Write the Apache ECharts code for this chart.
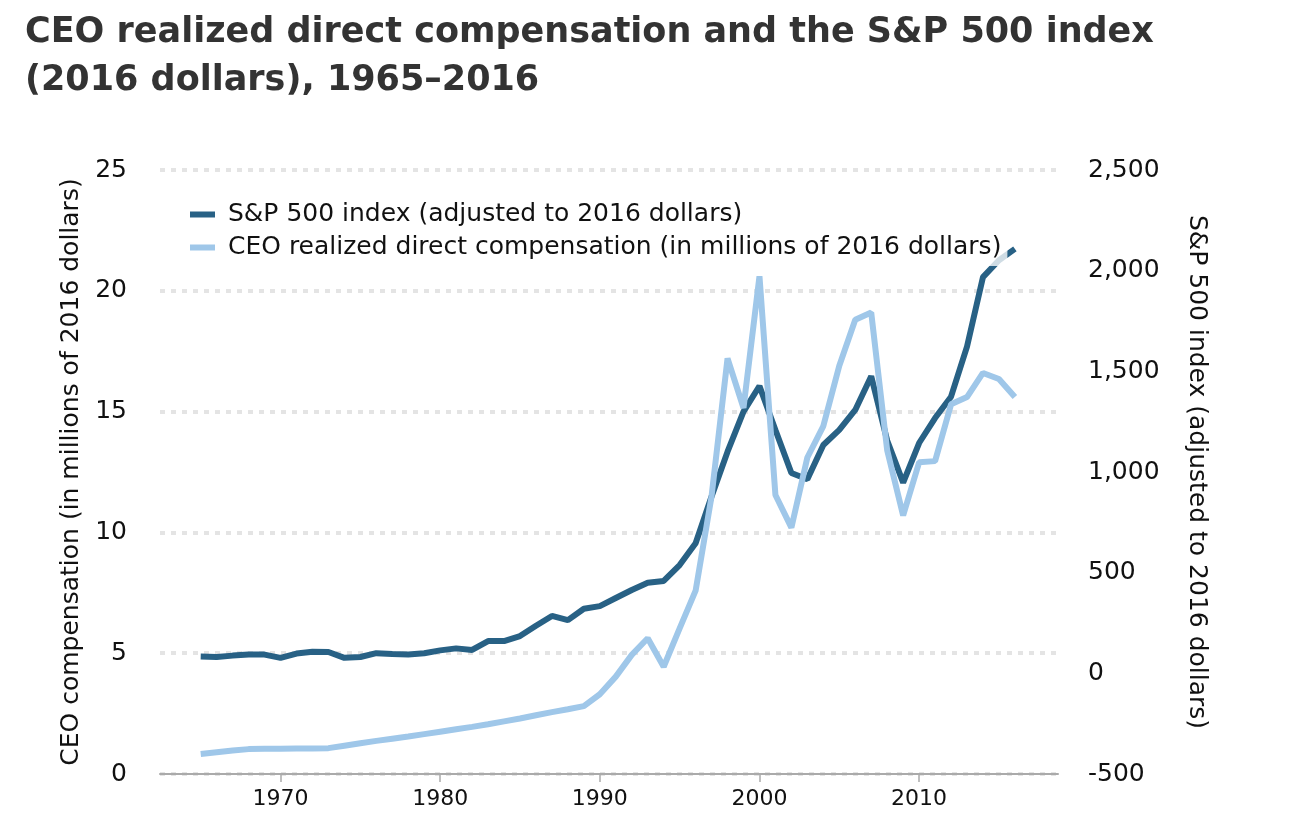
<!DOCTYPE html>
<html>
<head>
<meta charset="utf-8">
<script src="https://cdn.jsdelivr.net/npm/echarts@6/dist/echarts.min.js"></script>
<style>
html,body{margin:0;padding:0;background:#fff;}
#chart{width:1308px;height:832px;}
</style>
</head>
<body>
<div id="chart"></div>
<script>
const years = [1965,1966,1967,1968,1969,1970,1971,1972,1973,1974,1975,1976,1977,1978,1979,1980,1981,1982,1983,1984,1985,1986,1987,1988,1989,1990,1991,1992,1993,1994,1995,1996,1997,1998,1999,2000,2001,2002,2003,2004,2005,2006,2007,2008,2009,2010,2011,2012,2013,2014,2015,2016];
const sp500 = [83,81,88,94,93,77,98,107,106,77,81,100,96,94,100,114,124,116,160,160,185,236,285,264,321,334,374,414,450,459,538,646,878,1101,1300,1427,1209,995,964,1134,1209,1308,1476,1156,947,1144,1268,1374,1623,1968,2052,2108];
const ceoComp = [0.83,0.90,0.97,1.03,1.04,1.05,1.06,1.06,1.07,1.17,1.27,1.37,1.46,1.55,1.65,1.75,1.85,1.95,2.06,2.18,2.30,2.43,2.56,2.68,2.81,3.3,4.03,4.93,5.62,4.44,6.03,7.59,11.5,17.2,15.15,20.6,11.55,10.2,13.1,14.4,16.9,18.8,19.1,13.4,10.7,12.9,12.95,15.3,15.6,16.6,16.35,15.6];
const xTickYears = [1970,1980,1990,2000,2010];
const seriesNames = ['S&P 500 index (adjusted to 2016 dollars)','CEO realized direct compensation (in millions of 2016 dollars)'];
const titleText = 'CEO realized direct compensation and the S&P 500 index\n(2016 dollars), 1965\u20132016';
const leftAxisName = 'CEO compensation (in millions of 2016 dollars)';
const rightAxisName = 'S&P 500 index (adjusted to 2016 dollars)';

const FONT = '"DejaVu Sans"';
const chart = echarts.init(document.getElementById('chart'));
const fmt = v => v.toLocaleString('en-US');
chart.setOption({
  animation:false,
  title:{
    text:titleText, left:20, top:4,
    textStyle:{fontFamily:FONT,fontWeight:'bold',fontSize:35,lineHeight:48,color:'#333'}
  },
  legend:{
    orient:'vertical', left:186, top:199,
    itemWidth:25, itemHeight:6, itemGap:8, icon:'rect',
    backgroundColor:'rgba(255,255,255,0.78)', padding:[3,6,6,4],
    textStyle:{fontFamily:FONT,fontSize:25,color:'#111',padding:[0,0,0,8]},
    data:seriesNames
  },
  grid:{left:160,right:250,top:170,bottom:58,containLabel:false},
  xAxis:{
    type:'value', min:1962.45, max:2018.7,
    axisLine:{show:true,lineStyle:{color:'#aaa',width:2}},
    axisTick:{show:true,customValues:xTickYears,length:8,lineStyle:{color:'#aaa',width:1.5}},
    axisLabel:{customValues:xTickYears,margin:14,fontFamily:FONT,fontSize:22,color:'#111',formatter:v=>String(v)},
    splitLine:{show:false}
  },
  yAxis:[
    {
      type:'value', min:0, max:25, interval:5, position:'left',
      name:leftAxisName, nameLocation:'middle', nameGap:76, nameRotate:90,
      nameTextStyle:{fontFamily:FONT,fontSize:25,color:'#111'},
      axisLine:{show:false}, axisTick:{show:false},
      axisLabel:{margin:33,fontFamily:FONT,fontSize:25,color:'#111'},
      splitLine:{show:true,lineStyle:{color:'#e4e4e4',width:4,type:[5,6]}}
    },
    {
      type:'value', min:-500, max:2500, interval:500, position:'right',
      name:rightAxisName, nameLocation:'middle', nameGap:126, nameRotate:-90,
      nameTextStyle:{fontFamily:FONT,fontSize:25,color:'#111'},
      axisLine:{show:false}, axisTick:{show:false},
      axisLabel:{margin:30,fontFamily:FONT,fontSize:25,color:'#111',formatter:fmt},
      splitLine:{show:false}
    }
  ],
  series:[
    {
      name:seriesNames[0], type:'line', yAxisIndex:1, symbol:'none',
      lineStyle:{color:'#286185',width:6}, itemStyle:{color:'#286185'},
      data:years.map((y,i)=>[y,sp500[i]]), z:2
    },
    {
      name:seriesNames[1], type:'line', yAxisIndex:0, symbol:'none',
      lineStyle:{color:'#9fc7e9',width:6}, itemStyle:{color:'#9fc7e9'},
      data:years.map((y,i)=>[y,ceoComp[i]]), z:3
    }
  ]
});
</script>
</body>
</html>
